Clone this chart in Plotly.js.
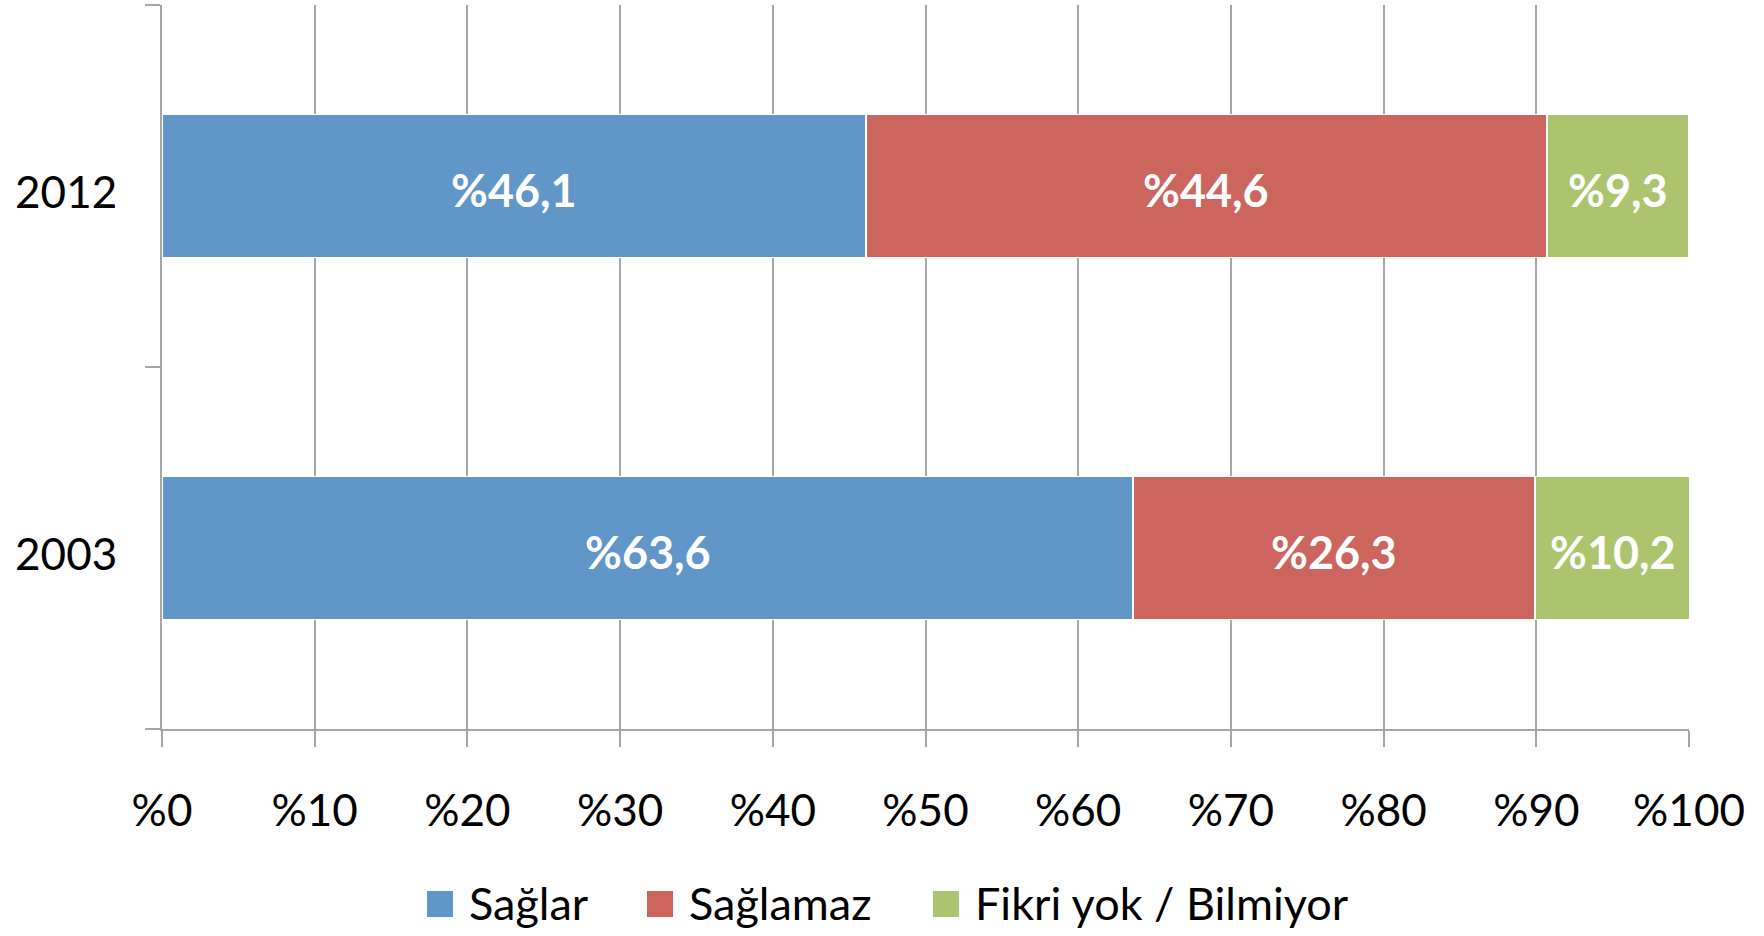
<!DOCTYPE html>
<html>
<head>
<meta charset="utf-8">
<script src="https://cdn.plot.ly/plotly-3.0.1.min.js"></script>
<style>
html,body{margin:0;padding:0;background:#fff;}
#chart{width:1764px;height:936px;}
</style>
</head>
<body>
<div id="chart"></div>
<script>
const years = ['2003', '2012'];
const seriesNames = ['Sağlar', 'Sağlamaz', 'Fikri yok / Bilmiyor'];
const saglar = [63.6, 46.1];
const saglamaz = [26.3, 44.6];
const fikriYok = [10.2, 9.3];
const xTickVals = [0, 10, 20, 30, 40, 50, 60, 70, 80, 90, 100];
const xTickText = xTickVals.map(v => '%' + v);

const colors = ['#6096c8', '#cd655f', '#adc46e'];
const seriesValues = [saglar, saglamaz, fikriYok];
const fmt = v => '%' + v.toFixed(1).replace('.', ',');

const traces = seriesValues.map((vals, i) => ({
  type: 'bar',
  orientation: 'h',
  name: seriesNames[i],
  y: years,
  x: vals,
  hoverinfo: 'none',
  showlegend: false,
  marker: {color: colors[i], line: {color: '#ffffff', width: 1.5}}
}));

// value labels centred in each segment (positions via data coordinates;
// category axis position = category index)
const annotations = [];
years.forEach((yr, j) => {
  let base = 0;
  seriesValues.forEach((vals) => {
    const v = vals[j];
    annotations.push({
      x: base + v / 2, y: j, xref: 'x', yref: 'y',
      text: fmt(v), showarrow: false, yshift: -4,
      xanchor: 'center', yanchor: 'middle',
      font: {family: 'Lato', size: 45, color: '#ffffff', weight: 'bold'}
    });
    base += v;
  });
});

// legend (drawn as shapes + text in paper space)
const plotL = 162, plotW = 1527, plotB = 729, plotH = 724;
const px = v => (v - plotL) / plotW;
const py = v => (plotB - v) / plotH;
const legendSquareLeft = [427, 647, 933];
const shapes = [];
seriesNames.forEach((name, i) => {
  const x0 = legendSquareLeft[i];
  shapes.push({
    type: 'rect', xref: 'paper', yref: 'paper',
    x0: px(x0), x1: px(x0 + 26), y0: py(917), y1: py(891),
    fillcolor: colors[i], line: {width: 0}
  });
  annotations.push({
    xref: 'paper', yref: 'paper', x: px(x0 + 40), y: py(903),
    xanchor: 'left', yanchor: 'middle', showarrow: false,
    text: name, font: {family: 'Lato', size: 45, color: '#000000'}
  });
});

const grid = '#a6a6a6';
const layout = {
  width: 1764,
  height: 936,
  paper_bgcolor: '#ffffff',
  plot_bgcolor: '#ffffff',
  barmode: 'stack',
  bargap: 0.605,
  showlegend: false,
  font: {family: 'Lato', color: '#000000', size: 44},
  margin: {l: 162, r: 75, t: 5, b: 207, autoexpand: false},
  annotations: annotations,
  shapes: shapes,
  xaxis: {
    range: [0, 100],
    tickvals: xTickVals,
    ticktext: xTickText,
    showgrid: true,
    gridcolor: grid,
    gridwidth: 2,
    showline: true,
    linecolor: grid,
    linewidth: 2,
    ticks: 'outside',
    ticklen: 16,
    tickwidth: 2,
    tickcolor: grid,
    ticklabelstandoff: 26,
    zeroline: false,
    automargin: false,
    tickfont: {family: 'Lato', size: 44, color: '#000'},
    fixedrange: true
  },
  yaxis: {
    type: 'category',
    categoryorder: 'array',
    categoryarray: years,
    range: [-0.5, years.length - 0.5],
    tickson: 'boundaries',
    ticks: 'outside',
    ticklen: 15,
    tickwidth: 2,
    tickcolor: grid,
    showline: true,
    linecolor: grid,
    linewidth: 2,
    showgrid: false,
    zeroline: false,
    automargin: false,
    ticklabelstandoff: 34,
    ticklabelshift: 7,
    tickfont: {family: 'Lato', size: 44, color: '#000'},
    fixedrange: true
  }
};

Plotly.newPlot('chart', traces, layout, {staticPlot: true, displayModeBar: false});
</script>
</body>
</html>
